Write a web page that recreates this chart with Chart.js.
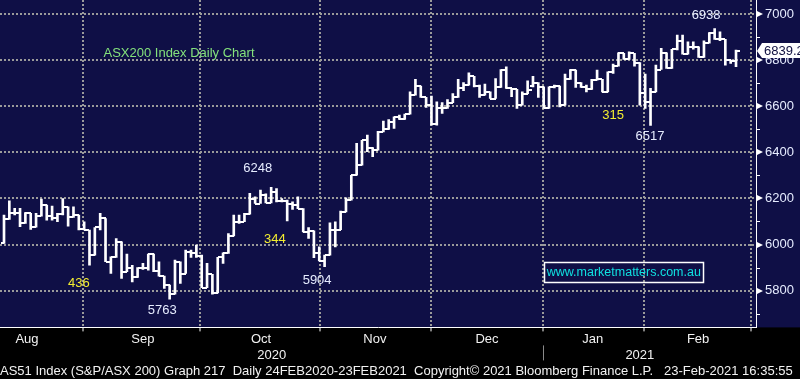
<!DOCTYPE html>
<html>
<head>
<meta charset="utf-8">
<script src="https://cdn.jsdelivr.net/npm/chart.js@4.4.1/dist/chart.umd.min.js"></script>
<style>
  html, body { margin: 0; padding: 0; background: #000; }
</style>
</head>
<body>
<canvas id="myChart" width="800" height="379"></canvas>
<script>
// AS51 daily bars, mid Aug 2020 -> 23 Feb 2021
const opens = [
  6005,6109,6139,6135,6092,6135,6077,6123,6171,6123,
  6113,6132,6164,6118,6128,6066,6063,5954,6074,6113,
  5925,5944,6012,5882,5900,5857,5900,5896,5958,5886,
  5863,5824,5784,5925,5874,5968,5964,5950,5813,5870,
  5790,5944,5964,6037,6099,6099,6132,6196,6178,6214,
  6181,6229,6190,6190,6178,6171,6156,6055,6059,5961,
  5929,5954,6065,6065,6142,6193,6301,6345,6453,6421,
  6410,6489,6500,6533,6552,6543,6566,6649,6688,6639,
  6605,6523,6591,6591,6616,6639,6678,6692,6731,6688,
  6649,6663,6634,6682,6760,6678,6674,6605,6655,6690,
  6703,6685,6591,6685,6688,6605,6717,6758,6700,6682,
  6674,6714,6717,6663,6750,6775,6830,6804,6830,6787,
  6656,6620,6663,6760,6833,6765,6848,6885,6827,6859,
  6859,6813,6874,6920,6891,6891,6801,6798
];
const highs = [
  6128,6190,6157,6157,6139,6135,6135,6197,6171,6167,
  6135,6200,6164,6164,6128,6099,6063,6074,6135,6113,
  5947,6026,6012,5958,5910,5900,5918,5958,5958,5925,
  5863,5824,5932,5925,5976,5976,5997,5954,5918,5870,
  5944,5964,6048,6128,6128,6135,6222,6207,6236,6220,
  6248,6243,6200,6193,6185,6207,6156,6074,6059,5990,
  5954,6094,6098,6145,6203,6301,6439,6453,6475,6421,
  6492,6536,6543,6555,6562,6566,6663,6717,6688,6639,
  6645,6620,6616,6630,6656,6717,6703,6746,6731,6692,
  6697,6663,6721,6760,6772,6678,6674,6663,6711,6731,
  6703,6685,6685,6692,6688,6740,6760,6758,6703,6692,
  6717,6758,6717,6750,6784,6833,6830,6837,6830,6790,
  6740,6678,6779,6852,6833,6848,6910,6910,6880,6880,
  6859,6885,6920,6938,6924,6891,6801,6845
];
const lows = [
  6005,6109,6128,6077,6092,6066,6075,6123,6106,6106,
  6099,6128,6080,6118,6063,6063,5910,5954,6063,5925,
  5874,5944,5853,5882,5838,5857,5892,5889,5882,5863,
  5809,5763,5784,5831,5874,5944,5944,5813,5813,5784,
  5790,5918,5961,6037,6092,6099,6132,6178,6178,6181,
  6181,6185,6185,6103,6152,6156,6055,6026,5943,5929,
  5904,5954,5990,6065,6142,6193,6301,6345,6403,6381,
  6410,6489,6500,6504,6543,6543,6566,6649,6639,6595,
  6518,6518,6569,6591,6616,6639,6668,6692,6685,6639,
  6649,6634,6634,6682,6678,6642,6591,6605,6655,6685,
  6639,6591,6591,6680,6598,6605,6717,6682,6682,6663,
  6674,6714,6663,6663,6743,6775,6804,6804,6775,6605,
  6591,6517,6663,6760,6765,6765,6845,6827,6827,6848,
  6813,6813,6874,6891,6885,6779,6787,6772
];
const closes = [
  6109,6139,6135,6092,6135,6077,6123,6171,6123,6113,
  6132,6164,6118,6128,6066,6063,5954,6074,6113,5925,
  5944,6012,5882,5900,5857,5900,5896,5958,5886,5863,
  5824,5784,5925,5874,5968,5964,5950,5813,5870,5790,
  5944,5964,6037,6099,6099,6132,6196,6178,6214,6181,
  6229,6190,6190,6178,6171,6156,6055,6059,5961,5929,
  5954,6065,6065,6142,6193,6301,6345,6453,6421,6410,
  6489,6500,6533,6552,6543,6566,6649,6688,6639,6605,
  6523,6591,6591,6616,6639,6678,6692,6731,6688,6649,
  6663,6634,6682,6760,6678,6674,6605,6655,6671,6703,
  6685,6591,6685,6688,6605,6717,6758,6700,6682,6674,
  6714,6717,6663,6750,6775,6830,6804,6830,6787,6656,
  6620,6663,6760,6833,6765,6848,6885,6827,6859,6859,
  6813,6874,6920,6891,6891,6801,6798,6839.2
];

// axis labels (positions are in bar-index units)
const monthLabels  = ['Aug', 'Sep', 'Oct', 'Nov', 'Dec', 'Jan', 'Feb'];
const monthCentres = [4.3, 26.0, 48.1, 69.4, 90.4, 110.2, 129.9];
const monthStarts  = [14.8, 36.7, 59.1, 79.9, 100.9, 119.8, 139.8];
const yearLabels   = ['2020', '2021'];
const yearCentres  = [50.1, 119.0];
const yearBreak    = 100.9;
const priceTicks   = [5700, 5800, 5900, 6000, 6100, 6200, 6300, 6400, 6500, 6600, 6700, 6800, 6900, 7000];

// annotations written on the chart (bar index, price level)
const noteTexts = ['6248', '5763', '5904', '6517', '6938', '436', '344', '315'];
const noteIdx   = [47.5, 29.6, 58.6, 120.9, 131.4, 14.0, 50.7, 114.0];
const noteVals  = [6332, 5714, 5845, 6468, 6993, 5832, 6022, 6562];
const noteMove  = [false, false, false, false, false, true, true, true];

const captionText = 'ASX200 Index Daily Chart';
const captionAt = [32.75, 6832];
const siteText = 'www.marketmatters.com.au';
const siteAt = [116.0, 5880];
const footerText = 'AS51 Index (S&P/ASX 200) Graph 217  Daily 24FEB2020-23FEB2021  Copyright\u00A9 2021 Bloomberg Finance L.P.   23-Feb-2021 16:35:55';

const X_MIN = -0.75, X_MAX = 140.74;
const NAVY = '#0f0f46';
const GRID = '#9a9a9a';
const FONT = "'Liberation Sans', Arial, sans-serif";
const TXT = '#e6ecff';

const noPad = s => { s.paddingTop = 0; s.paddingBottom = 0; s.paddingLeft = 0; s.paddingRight = 0; };

const bg = {
  id: 'bg',
  beforeDraw(chart) {
    const {ctx, chartArea} = chart;
    ctx.save();
    ctx.fillStyle = '#000';
    ctx.fillRect(0, 0, chart.width, chart.height);
    ctx.fillStyle = NAVY;
    ctx.fillRect(0, 0, chart.width, chartArea.bottom);
    ctx.restore();
  }
};

// open / close ticks of the OHLC bars
const ohlcTicks = {
  id: 'ohlcTicks',
  afterDatasetsDraw(chart) {
    const {ctx, scales: {x, y}} = chart;
    ctx.save();
    ctx.fillStyle = '#fff';
    closes.forEach((c, i) => {
      const px = Math.round(x.getPixelForValue(i));
      ctx.fillRect(px - 3, Math.round(y.getPixelForValue(opens[i])) - 1, 3, 2);
      ctx.fillRect(px, Math.round(y.getPixelForValue(c)) - 1, 4, 2);
    });
    ctx.restore();
  }
};

const extras = {
  id: 'extras',
  afterDraw(chart) {
    const {ctx, scales: {x, y, years}} = chart;
    ctx.save();

    // price axis ticks: arrows at labelled levels, short marks between
    ctx.fillStyle = '#fff';
    const ax = y.left;
    priceTicks.forEach(v => {
      const py = Math.round(y.getPixelForValue(v));
      if (v % 200 === 0) {
        ctx.beginPath();
        ctx.moveTo(ax + 1, py - 3);
        ctx.lineTo(ax + 7, py);
        ctx.lineTo(ax + 1, py + 3);
        ctx.closePath();
        ctx.fill();
      } else {
        ctx.fillRect(ax, py, 4, 1);
      }
    });

    // year separator
    ctx.fillStyle = '#8a8a8a';
    ctx.fillRect(Math.round(years.getPixelForValue(yearBreak)), years.top - 2, 1, 15);

    // notes
    ctx.font = '13px ' + FONT;
    ctx.textAlign = 'center';
    ctx.textBaseline = 'middle';
    noteTexts.forEach((t, i) => {
      ctx.fillStyle = noteMove[i] ? '#f4ee30' : TXT;
      ctx.fillText(t, x.getPixelForValue(noteIdx[i]), y.getPixelForValue(noteVals[i]));
    });

    ctx.fillStyle = '#84e27c';
    ctx.fillText(captionText, x.getPixelForValue(captionAt[0]), y.getPixelForValue(captionAt[1]));

    // site box
    const sx = x.getPixelForValue(siteAt[0]), sy = y.getPixelForValue(siteAt[1]);
    ctx.font = '12.5px ' + FONT;
    const w = ctx.measureText(siteText).width;
    ctx.fillStyle = '#10e0e0';
    ctx.fillText(siteText, sx, sy);
    ctx.strokeStyle = '#fff';
    ctx.lineWidth = 1.5;
    ctx.strokeRect(Math.round(sx - w / 2 - 3) + 0.5, Math.round(sy - 10) + 0.5, Math.round(w + 5), 20);

    // last price tag
    const last = closes[closes.length - 1];
    const ly = Math.round(y.getPixelForValue(last));
    ctx.fillStyle = '#fff';
    ctx.beginPath();
    ctx.moveTo(ax + 1, ly);
    ctx.lineTo(ax + 6, ly - 8);
    ctx.lineTo(chart.width, ly - 8);
    ctx.lineTo(chart.width, ly + 7);
    ctx.lineTo(ax + 6, ly + 7);
    ctx.closePath();
    ctx.fill();
    ctx.fillStyle = '#101040';
    ctx.font = '13px ' + FONT;
    ctx.textAlign = 'left';
    ctx.fillText(last.toFixed(1), ax + 8, ly);

    ctx.restore();
  }
};

const ctx = document.getElementById('myChart').getContext('2d');

new Chart(ctx, {
  type: 'bar',
  data: {
    datasets: [{
      data: closes.map((c, i) => ({x: i, y: [lows[i], highs[i]]})),
      backgroundColor: '#fff',
      borderWidth: 0,
      barThickness: 2,
      grouped: false
    }]
  },
  options: {
    responsive: false,
    animation: false,
    layout: {padding: 0},
    plugins: {
      legend: {display: false},
      tooltip: {enabled: false},
      title: {
        display: true,
        position: 'bottom',
        align: 'start',
        text: footerText,
        color: '#f2f2f2',
        font: {family: FONT, size: 13, weight: 'normal'},
        padding: {top: 0, bottom: 0}
      }
    },
    scales: {
      x: {
        type: 'linear',
        position: 'bottom',
        min: X_MIN,
        max: X_MAX,
        offset: false,
        afterBuildTicks: s => {
          s.ticks = monthStarts.concat(monthCentres).sort((a, b) => a - b).map(v => ({value: v}));
        },
        afterFit: s => { s.height = 20; noPad(s); },
        grid: {
          offset: false,
          lineWidth: 2,
          color: c => (c.tick && monthStarts.includes(c.tick.value)) ? GRID : 'rgba(0,0,0,0)',
          tickColor: c => (c.tick && monthStarts.includes(c.tick.value)) ? '#fff' : 'rgba(0,0,0,0)',
          tickLength: 4,
          tickWidth: 1
        },
        border: {color: '#fff', width: 1, dash: [2, 2]},
        ticks: {
          autoSkip: false,
          maxRotation: 0,
          padding: 0,
          color: '#f2f2f2',
          font: {family: FONT, size: 13},
          callback: v => {
            const k = monthCentres.indexOf(v);
            return k >= 0 ? monthLabels[k] : '';
          }
        }
      },
      years: {
        type: 'linear',
        position: 'bottom',
        min: X_MIN,
        max: X_MAX,
        offset: false,
        afterBuildTicks: s => { s.ticks = yearCentres.map(v => ({value: v})); },
        afterFit: s => { s.height = 16; noPad(s); },
        grid: {display: false, drawTicks: false, tickLength: 0, offset: false},
        border: {display: false},
        ticks: {
          autoSkip: false,
          maxRotation: 0,
          padding: 0,
          color: '#f2f2f2',
          font: {family: FONT, size: 13},
          callback: (v, i) => yearLabels[i]
        }
      },
      y: {
        position: 'right',
        min: 5640,
        max: 7062,
        afterBuildTicks: s => { s.ticks = priceTicks.map(v => ({value: v})); },
        afterFit: s => { s.width = 44; noPad(s); },
        grid: {
          lineWidth: 2,
          drawTicks: false,
          color: c => (c.tick && c.tick.value % 200 === 0) ? GRID : 'rgba(0,0,0,0)'
        },
        border: {color: '#fff', width: 1, dash: [2, 2]},
        ticks: {
          padding: 9,
          color: TXT,
          font: {family: FONT, size: 13},
          callback: v => (v % 200 === 0 ? String(v) : '')
        }
      }
    }
  },
  plugins: [bg, ohlcTicks, extras]
});
</script>
</body>
</html>
